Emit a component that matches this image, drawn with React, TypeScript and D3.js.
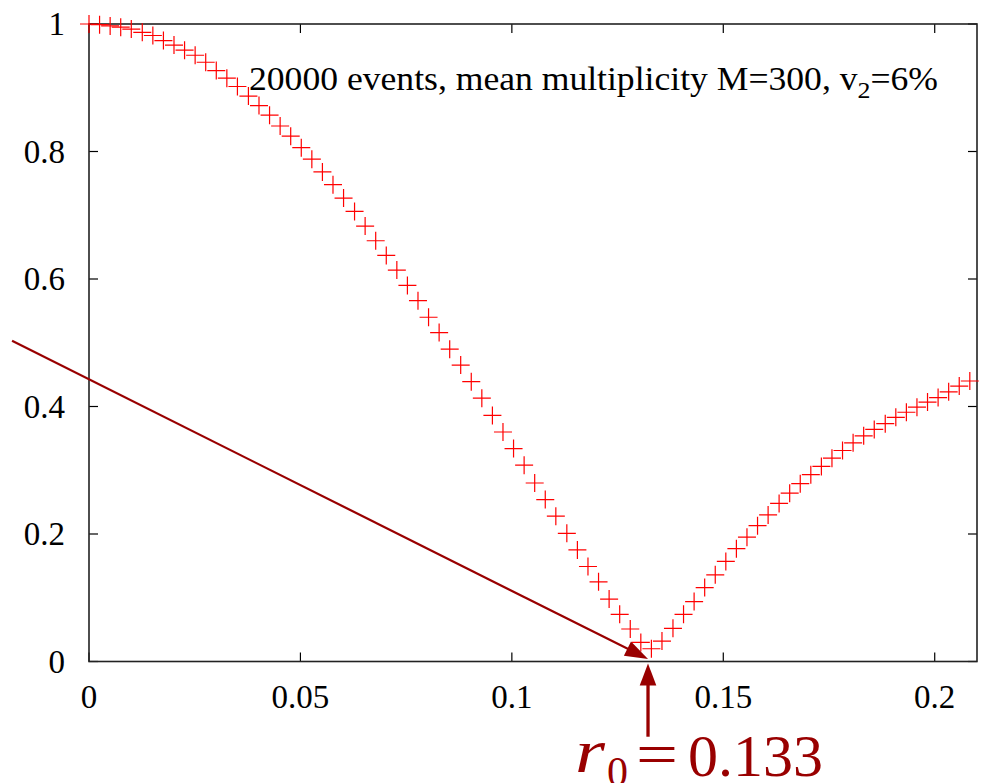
import React from "react";
import * as d3 from "d3";

const rValues = [
  0, 0.0025, 0.005, 0.0075, 0.01, 0.0126, 0.0151, 0.0176, 0.0201, 0.0226,
  0.0251, 0.0276, 0.0301, 0.0326, 0.0351, 0.0377, 0.0402, 0.0427, 0.0452, 0.0477,
  0.0502, 0.0527, 0.0552, 0.0577, 0.0602, 0.0628, 0.0653, 0.0678, 0.0703, 0.0728,
  0.0753, 0.0778, 0.0803, 0.0828, 0.0853, 0.0879, 0.0904, 0.0929, 0.0954, 0.0979,
  0.1004, 0.1029, 0.1054, 0.1079, 0.1104, 0.113, 0.1155, 0.118, 0.1205, 0.123,
  0.1255, 0.128, 0.1305, 0.133, 0.1355, 0.1381, 0.1406, 0.1431, 0.1456, 0.1481,
  0.1506, 0.1531, 0.1556, 0.1581, 0.1606, 0.1632, 0.1657, 0.1682, 0.1707, 0.1732,
  0.1757, 0.1782, 0.1807, 0.1832, 0.1857, 0.1883, 0.1908, 0.1933, 0.1958, 0.1983,
  0.2008, 0.2033, 0.2058, 0.2083,
];

const gValues = [
  1.0, 0.999, 0.997, 0.995, 0.992, 0.987, 0.982, 0.974, 0.967, 0.959,
  0.951, 0.94, 0.927, 0.915, 0.902, 0.887, 0.872, 0.857, 0.84, 0.824,
  0.806, 0.788, 0.768, 0.748, 0.727, 0.706, 0.683, 0.66, 0.637, 0.614,
  0.59, 0.566, 0.54, 0.516, 0.49, 0.465, 0.439, 0.413, 0.386, 0.36,
  0.334, 0.308, 0.28, 0.254, 0.228, 0.201, 0.175, 0.149, 0.125, 0.098,
  0.074, 0.051, 0.03, 0.02, 0.032, 0.052, 0.074, 0.094, 0.116, 0.136,
  0.157, 0.177, 0.195, 0.213, 0.23, 0.248, 0.264, 0.279, 0.293, 0.306,
  0.319, 0.331, 0.343, 0.354, 0.364, 0.373, 0.383, 0.391, 0.399, 0.407,
  0.414, 0.423, 0.432, 0.44,
];

const xTicks = [0, 0.05, 0.1, 0.15, 0.2];
const xTickLabels = ["0", "0.05", "0.1", "0.15", "0.2"];
const yTicks = [0, 0.2, 0.4, 0.6, 0.8, 1];
const yTickLabels = ["0", "0.2", "0.4", "0.6", "0.8", "1"];

const annotationMain = "20000 events, mean multiplicity M=300, v";
const annotationSub = "2";
const annotationTail = "=6%";

// r0 marker (data units)
const r0Marker = 0.1322;
const diagStart = [-0.0182, 0.503];
const diagEnd = [0.1322, 0.004];
const vertStartY = -0.118;
const vertEndY = -0.003;

const W = 982;
const H = 783;
const DARKRED = "#990000";

function arrowHead(x1: number, y1: number, x2: number, y2: number, len: number, halfW: number) {
  const dx = x2 - x1;
  const dy = y2 - y1;
  const L = Math.hypot(dx, dy);
  const ux = dx / L;
  const uy = dy / L;
  const bx = x2 - ux * len;
  const by = y2 - uy * len;
  const px = -uy;
  const py = ux;
  return `${x2},${y2} ${bx + px * halfW},${by + py * halfW} ${bx - px * halfW},${by - py * halfW}`;
}

const FONT = "Liberation Serif, Tinos, Times New Roman, Times, DejaVu Serif, serif";

export default function App() {
  const x = d3.scaleLinear().domain([0, 0.21]).range([89, 977]);
  const y = d3.scaleLinear().domain([0, 1]).range([661.5, 24]);
  const tickLen = 9;
  const cs = 9;
  const tstyle = { fontFamily: FONT };

  const dsx = x(diagStart[0]);
  const dsy = y(diagStart[1]);
  const dex = x(diagEnd[0]);
  const dey = y(diagEnd[1]);
  const vx = x(r0Marker);
  const vsy = y(vertStartY);
  const vey = y(vertEndY);
  const diagHeadLen = 23;
  const diagL = Math.hypot(dex - dsx, dey - dsy);
  const dlx = dex - ((dex - dsx) / diagL) * (diagHeadLen - 2);
  const dly = dey - ((dey - dsy) / diagL) * (diagHeadLen - 2);

  return (
    <svg
      width={W}
      height={H}
      style={{ position: "absolute", left: 0, top: 0, background: "#fff" }}
    >
      <rect x={0} y={0} width={W} height={H} fill="#fff" />
      {xTicks.map((t, i) => (
        <g key={"xt" + i}>
          <line x1={x(t)} x2={x(t)} y1={y(0)} y2={y(0) - tickLen} stroke="#000" strokeWidth={1.2} />
          <line x1={x(t)} x2={x(t)} y1={y(1)} y2={y(1) + tickLen} stroke="#000" strokeWidth={1.2} />
          <text x={x(t)} y={708} textAnchor="middle" style={tstyle} fontSize={33} fill="#000">
            {xTickLabels[i]}
          </text>
        </g>
      ))}
      {yTicks.map((t, i) => (
        <g key={"yt" + i}>
          <line x1={x(0)} x2={x(0) + tickLen} y1={y(t)} y2={y(t)} stroke="#000" strokeWidth={1.2} />
          <line x1={x(0.21)} x2={x(0.21) - tickLen} y1={y(t)} y2={y(t)} stroke="#000" strokeWidth={1.2} />
          <text x={65} y={y(t) + 11} textAnchor="end" style={tstyle} fontSize={33} fill="#000">
            {yTickLabels[i]}
          </text>
        </g>
      ))}
      <rect
        x={x(0)}
        y={y(1)}
        width={x(0.21) - x(0)}
        height={y(0) - y(1)}
        fill="none"
        stroke="#222"
        strokeWidth={1.6}
      />
      <text
        x={249}
        y={90}
        style={tstyle}
        fontSize={33}
        fill="#000"
        textLength={689}
        lengthAdjust="spacingAndGlyphs"
      >
        {annotationMain}
        <tspan fontSize={24} dy={8}>{annotationSub}</tspan>
        <tspan dy={-8}>{annotationTail}</tspan>
      </text>
      <g stroke="#ff0000" strokeWidth={1.2} fill="none">
        {rValues.map((r, i) => {
          const cx = x(r);
          const cy = y(gValues[i]);
          return (
            <path key={i} d={`M${cx - cs},${cy}H${cx + cs}M${cx},${cy - cs}V${cy + cs}`} />
          );
        })}
      </g>
      <line x1={dsx} y1={dsy} x2={dlx} y2={dly} stroke={DARKRED} strokeWidth={2.2} />
      <polygon points={arrowHead(dsx, dsy, dex, dey, diagHeadLen, 8)} fill={DARKRED} />
      <line x1={vx} y1={vsy} x2={vx} y2={vey + 20} stroke={DARKRED} strokeWidth={3.3} />
      <polygon points={arrowHead(vx, vsy, vx, vey, 22, 8.3)} fill={DARKRED} />
      <g style={tstyle} fill={DARKRED}>
        <text x={575} y={772} fontSize={62} fontStyle="italic" textLength={30} lengthAdjust="spacingAndGlyphs">r</text>
        <text x={607} y={786} fontSize={42}>0</text>
        <text x={636} y={774} fontSize={60} textLength={42} lengthAdjust="spacingAndGlyphs">=</text>
        <text x={688} y={776} fontSize={60}>0.133</text>
      </g>
    </svg>
  );
}
